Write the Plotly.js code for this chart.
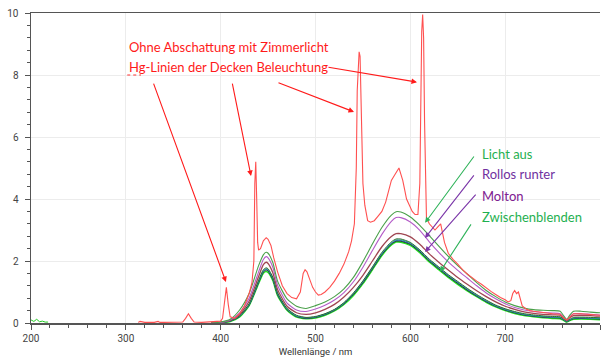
<!DOCTYPE html>
<html>
<head>
<meta charset="utf-8">
<script src="https://cdn.plot.ly/plotly-3.0.1.min.js"></script>
<style>html,body{margin:0;padding:0;background:#fff;}#chart{width:602px;height:360px;}</style>
</head>
<body>
<div id="chart"></div>
<script>
// ---- Data ----
const redX = [313,315,320,330,334,336,340,350,360,363,366,369,372,380,390,398,400,402,404,406,408,410,415,420,425,430,433,435,436,437,438,439,440,442,445,448,450,453,456,460,465,470,475,480,484,487,489,491,494,497,500,503,506,510,515,520,525,530,535,538,541,543,544,545,546,547,548,549,550,552,555,558,562,566,570,574,577,580,583,586,588,590,592,594,596,599,602,605,608,610,611,612,613,614,615,616,617,620,623,626,629,632,634,636,640,645,650,655,660,665,670,675,680,685,690,695,700,703,706,708,710,712,714,716,718,722,726,730,740,750,758,762,765,768,772,780,790,800];
const redY = [0.02,0.05,0.02,0.02,0.05,0.02,0.02,0.02,0.03,0.15,0.3,0.15,0.03,0.02,0.03,0.05,0.06,0.15,0.7,1.15,0.6,0.2,0.15,0.3,0.55,0.95,1.3,2.0,4.5,5.2,4.0,2.6,2.35,2.4,2.65,2.75,2.7,2.5,2.1,1.65,1.2,0.95,0.82,0.78,1.0,1.6,1.72,1.65,1.4,1.15,1.0,0.9,0.92,1.0,1.15,1.35,1.6,1.9,2.3,2.65,3.2,5.0,7.5,8.5,8.75,8.6,7.2,5.5,4.5,3.8,3.3,3.25,3.3,3.45,3.6,3.9,4.3,4.6,4.75,4.9,5.0,4.8,4.6,4.3,4.0,3.8,3.6,3.5,3.5,4.5,7.5,9.4,9.95,9.2,6.5,4.0,3.4,3.2,3.1,3.0,3.1,3.2,2.9,2.6,2.25,2.05,1.9,1.72,1.58,1.45,1.35,1.25,1.12,1.02,0.92,0.82,0.75,0.68,0.72,0.95,1.05,0.95,1.0,0.75,0.55,0.45,0.4,0.38,0.33,0.3,0.28,0.15,0.1,0.2,0.3,0.3,0.28,0.25];

const noiseX = [200,203,206,209,212,215,218];
const noiseY = [0.1,0.05,0.12,0.04,0.06,0.03,0.03];

const wl = [390,400,410,420,430,440,445,448,450,455,460,470,480,490,500,510,520,530,540,550,560,570,580,585,590,600,610,620,630,640,650,660,670,680,690,700,710,720,730,740,750,758,762,765,768,772,780,790,800];

const lichtAus   = [0,0.03,0.12,0.42,0.95,1.85,2.2,2.28,2.25,1.95,1.35,0.78,0.54,0.47,0.56,0.68,0.85,1.1,1.47,1.98,2.55,3.08,3.48,3.59,3.58,3.42,3.15,2.82,2.48,2.15,1.85,1.58,1.3,1.05,0.85,0.68,0.56,0.48,0.43,0.41,0.4,0.38,0.22,0.12,0.25,0.38,0.38,0.35,0.33];
const rollos     = [0,0.02,0.1,0.33,0.8,1.65,2.05,2.14,2.1,1.8,1.22,0.64,0.42,0.37,0.45,0.57,0.74,0.98,1.33,1.8,2.34,2.86,3.28,3.4,3.4,3.26,2.99,2.62,2.28,1.97,1.7,1.45,1.2,0.97,0.78,0.62,0.5,0.42,0.37,0.34,0.32,0.3,0.18,0.1,0.2,0.3,0.3,0.28,0.26];
const molton     = [0,0.02,0.08,0.27,0.7,1.5,1.88,1.96,1.92,1.62,1.08,0.54,0.33,0.28,0.33,0.44,0.6,0.84,1.15,1.54,2.0,2.46,2.79,2.88,2.88,2.78,2.54,2.23,1.96,1.71,1.47,1.25,1.04,0.85,0.68,0.54,0.44,0.36,0.31,0.28,0.26,0.25,0.15,0.08,0.17,0.24,0.25,0.24,0.22];
const zwDunkel   = [0,0.02,0.07,0.24,0.62,1.38,1.72,1.78,1.75,1.48,0.98,0.47,0.25,0.18,0.21,0.3,0.44,0.66,0.97,1.36,1.81,2.28,2.62,2.71,2.71,2.6,2.36,2.06,1.81,1.56,1.34,1.12,0.92,0.74,0.58,0.46,0.37,0.3,0.26,0.23,0.21,0.2,0.12,0.06,0.12,0.18,0.19,0.18,0.17];
const zwTuerkis  = [0,0.02,0.07,0.23,0.6,1.35,1.69,1.75,1.72,1.45,0.96,0.45,0.23,0.17,0.2,0.29,0.43,0.64,0.95,1.34,1.79,2.25,2.59,2.68,2.68,2.58,2.34,2.04,1.79,1.54,1.32,1.1,0.9,0.72,0.56,0.44,0.35,0.28,0.24,0.21,0.19,0.18,0.1,0.05,0.1,0.16,0.17,0.16,0.15];
const zwBlau     = [0,0.02,0.06,0.22,0.59,1.33,1.67,1.73,1.7,1.43,0.94,0.44,0.22,0.16,0.19,0.28,0.42,0.63,0.94,1.32,1.77,2.23,2.57,2.66,2.66,2.56,2.32,2.02,1.77,1.52,1.3,1.08,0.88,0.7,0.55,0.43,0.34,0.27,0.23,0.2,0.18,0.17,0.1,0.05,0.1,0.15,0.16,0.15,0.14];
const zwSchwarz  = [0,0.02,0.06,0.21,0.58,1.31,1.65,1.71,1.68,1.41,0.92,0.43,0.21,0.15,0.18,0.27,0.41,0.62,0.92,1.3,1.75,2.21,2.55,2.64,2.64,2.54,2.3,2.0,1.75,1.5,1.28,1.06,0.87,0.69,0.54,0.42,0.33,0.26,0.22,0.19,0.17,0.16,0.09,0.04,0.09,0.14,0.15,0.14,0.13];
const zwHell     = [0,0.01,0.05,0.2,0.56,1.28,1.61,1.66,1.63,1.37,0.89,0.41,0.19,0.14,0.16,0.25,0.39,0.6,0.89,1.27,1.72,2.18,2.52,2.61,2.61,2.51,2.27,1.97,1.72,1.47,1.25,1.04,0.85,0.67,0.52,0.4,0.31,0.24,0.2,0.17,0.15,0.14,0.08,0.03,0.08,0.12,0.13,0.12,0.11];

const xTicks = [200,300,400,500,600,700,800];
const yTicks = [0,2,4,6,8,10];

// ---- Traces ----
function sm(y, color, width) {
  return {x: wl, y: y, type: 'scatter', mode: 'lines', line: {color: color, width: width, shape: 'spline', smoothing: 0.6}, hoverinfo: 'skip'};
}
const traces = [
  {x: noiseX, y: noiseY, type: 'scatter', mode: 'lines', line: {color: '#22cc22', width: 1}},
  sm(zwHell, '#22dd22', 1.6),
  sm(zwSchwarz, '#222222', 1),
  sm(zwBlau, '#2a4aa8', 1),
  sm(zwTuerkis, '#2aa5a5', 1),
  sm(zwDunkel, '#2d6e2d', 1),
  sm(molton, '#a04652', 1.3),
  sm(rollos, '#b45cc8', 1.1),
  sm(lichtAus, '#4aa04a', 1.1),
  {x: redX, y: redY, type: 'scatter', mode: 'lines', line: {color: '#ff5050', width: 1.1}}
];

// ---- Annotations ----
const red = '#ff1a1a', grn = '#2fb35a', pur = '#7a35a8';
const txtFont = {family: 'Lato, "Open Sans", sans-serif', size: 13};
function label(t, x, y, c) {
  return {text: t, x: x, y: y, xref: 'x', yref: 'y', xanchor: 'left', yanchor: 'middle', showarrow: false, font: Object.assign({}, txtFont, {color: c})};
}
function arrow(x, y, ax, ay, c) {
  return {text: '', x: x, y: y, ax: ax, ay: ay, xref: 'x', yref: 'y', axref: 'x', ayref: 'y', showarrow: true, arrowhead: 2, arrowsize: 1, arrowwidth: 1.1, arrowcolor: c};
}
const annotations = [
  label('Ohne Abschattung mit Zimmerlicht', 301.2, 8.9, red),
  label('Hg-Linien der Decken Beleuchtung', 301.2, 8.25, red),
  arrow(405.6, 1.32, 328.7, 7.77, red),
  arrow(432.0, 4.74, 412.0, 7.77, red),
  arrow(540.6, 6.81, 459.4, 7.77, red),
  arrow(607.0, 7.77, 512.1, 8.26, red),
  label('Licht aus', 673.5, 5.45, '#1fb050'),
  label('Rollos runter', 673.5, 4.81, '#7030a0'),
  label('Molton', 673.5, 4.11, '#7e2090'),
  label('Zwischenblenden', 673.5, 3.43, '#1fb050'),
  arrow(615.5, 3.23, 668.2, 5.42, grn),
  arrow(615.5, 2.74, 668.2, 4.81, pur),
  arrow(615.5, 2.29, 670.3, 4.19, pur),
  arrow(631.3, 1.65, 665.0, 3.23, grn)
];

const shapes = [
  {type: 'line', xref: 'x', yref: 'y', x0: 301.5, x1: 316, y0: 8.0, y1: 8.0, line: {color: '#ff3030', width: 1, dash: 'dot'}}
];

const tickFont = {family: '"Liberation Sans Narrow", Roboto, sans-serif', size: 10, color: '#444'};
const layout = {
  width: 602, height: 360,
  margin: {l: 31, r: 2, t: 13, b: 37, pad: 0},
  paper_bgcolor: '#ffffff', plot_bgcolor: '#ffffff',
  showlegend: false,
  xaxis: {
    range: [200, 800], tickvals: xTicks, ticktext: xTicks.map(String),
    showgrid: true, gridcolor: '#ececec', gridwidth: 1,
    zeroline: false, showline: true, linecolor: '#555', linewidth: 1.5, mirror: true,
    ticks: 'outside', ticklen: 5, tickwidth: 1, tickcolor: '#555',
    minor: {dtick: 20, ticks: 'outside', ticklen: 3, tickcolor: '#555', showgrid: false},
    tickfont: tickFont,
    title: {text: 'Wellenlänge / nm', font: {family: '"Liberation Sans Narrow", Roboto, sans-serif', size: 9.5, color: '#333'}, standoff: 6}
  },
  yaxis: {
    range: [0, 10], tickvals: yTicks, ticktext: yTicks.map(String),
    showgrid: true, gridcolor: '#ececec', gridwidth: 1,
    zeroline: false, showline: true, linecolor: '#555', linewidth: 1.5,
    ticks: 'outside', ticklen: 5, tickwidth: 1, tickcolor: '#555',
    minor: {dtick: 0.4, ticks: 'outside', ticklen: 3, tickcolor: '#555', showgrid: false},
    tickfont: tickFont, ticklabelstandoff: 4
  },
  annotations: annotations,
  shapes: shapes
};

Plotly.newPlot('chart', traces, layout, {displayModeBar: false, staticPlot: true});
</script>
</body>
</html>
